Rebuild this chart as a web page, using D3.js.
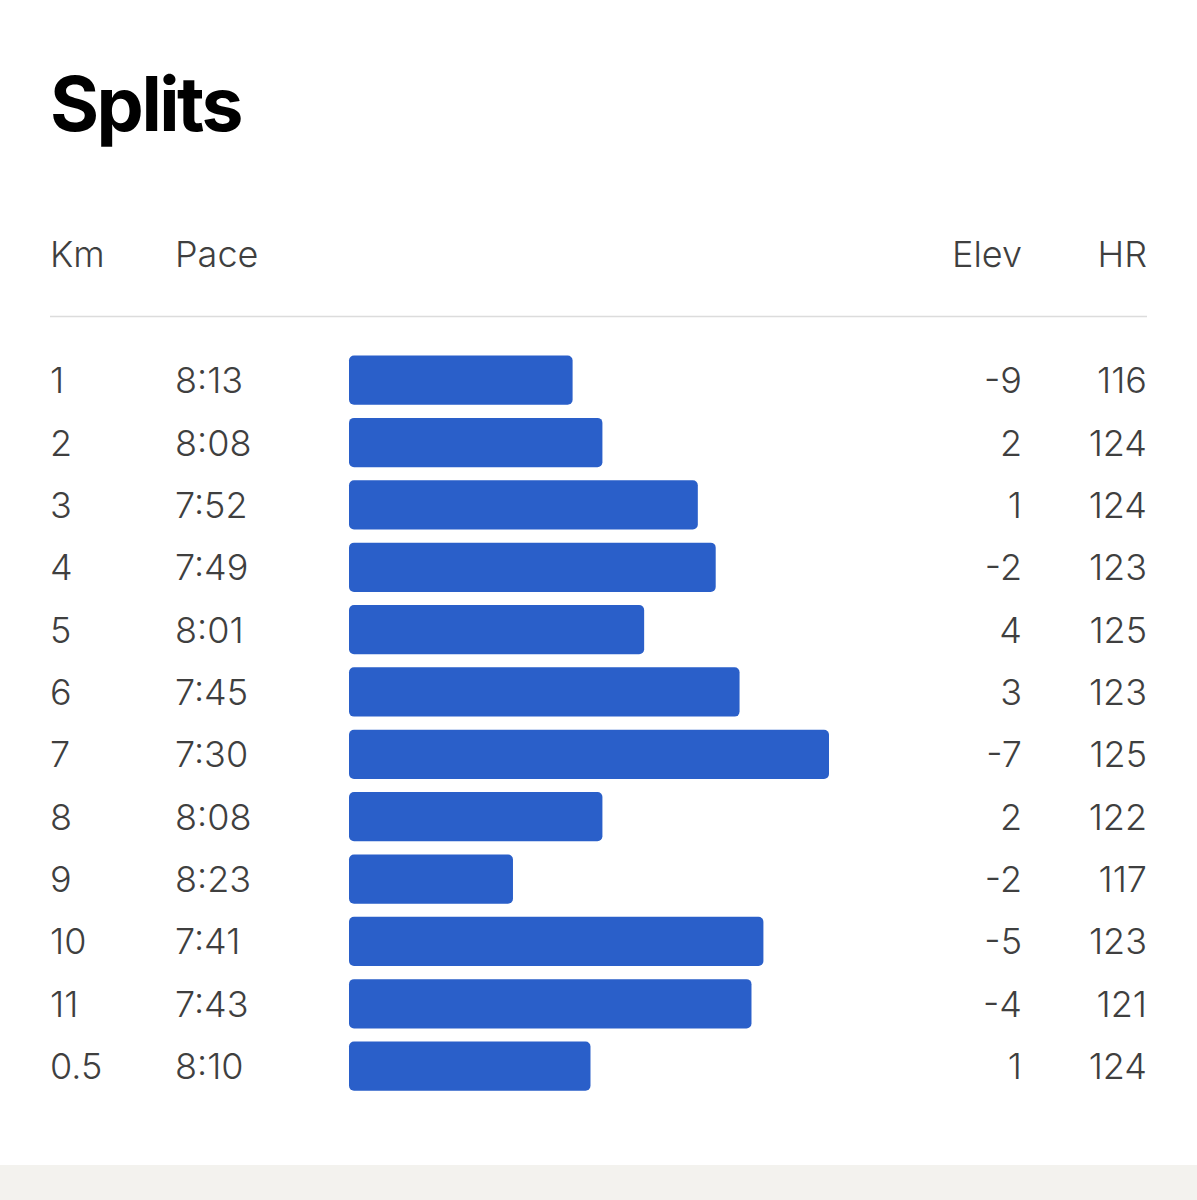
<!DOCTYPE html>
<html>
<head>
<meta charset="utf-8">
<script src="https://cdn.jsdelivr.net/npm/d3@7"></script>
<style>
  html, body { margin: 0; padding: 0; background: #ffffff; }
  svg { display: block; }
</style>
</head>
<body>
<script>
// ---- data ----
const kms = ["1","2","3","4","5","6","7","8","9","10","11","0.5"];
const paces = ["8:13","8:08","7:52","7:49","8:01","7:45","7:30","8:08","8:23","7:41","7:43","8:10"];
const elevs = [-9, 2, 1, -2, 4, 3, -7, 2, -2, -5, -4, 1];
const hrs = [116, 124, 124, 123, 125, 123, 125, 122, 117, 123, 121, 124];
const headers = ["Km", "Pace", "Elev", "HR"];
const title = "Splits";

const toSec = p => { const [m, s] = p.split(":").map(Number); return m * 60 + s; };
const rows = kms.map((k, i) => ({ km: k, pace: paces[i], sec: toSec(paces[i]), elev: elevs[i], hr: hrs[i] }));

const W = 1197, H = 1200;
const svg = d3.select("body").append("svg").attr("width", W).attr("height", H);
const font = "Inter, 'Noto Sans', sans-serif";
const textColor = "#3f3f3f";

// footer strip
svg.append("rect").attr("x", 0).attr("y", 1165).attr("width", W).attr("height", H - 1165).attr("fill", "#f3f2ee");

// title
svg.append("text").attr("x", 50).attr("y", 131).text(title)
  .attr("font-family", font).attr("font-weight", 700).attr("font-size", 75)
  .attr("fill", "#000").attr("letter-spacing", -2.5);

// headers
const colX = { km: 50, pace: 175, elev: 1022, hr: 1147 };
const hdr = [
  { t: headers[0], x: colX.km, a: "start" },
  { t: headers[1], x: colX.pace, a: "start" },
  { t: headers[2], x: colX.elev, a: "end" },
  { t: headers[3], x: colX.hr, a: "end" }
];
svg.selectAll("text.hdr").data(hdr).enter().append("text").attr("class", "hdr")
  .attr("x", d => d.x).attr("y", 267).attr("text-anchor", d => d.a).text(d => d.t)
  .attr("font-family", font).attr("font-size", 36).attr("font-weight", 350).attr("fill", textColor);

// divider
svg.append("line").attr("x1", 50).attr("x2", 1147).attr("y1", 316.5).attr("y2", 316.5)
  .attr("stroke", "#dcdcdc").attr("stroke-width", 1.5);

// scales
const y = d3.scaleBand().domain(d3.range(rows.length)).range([349, 349 + 62.36 * rows.length]).paddingInner(0.21).paddingOuter(0.105);
const x = d3.scaleLinear().domain([530.5, 450]).range([0, 480]);
const barX0 = 349;

const g = svg.append("g");
g.selectAll("rect.bar").data(rows).enter().append("rect").attr("class", "bar")
  .attr("x", barX0).attr("y", (d, i) => y(i))
  .attr("width", d => x(d.sec)).attr("height", y.bandwidth())
  .attr("rx", 5).attr("ry", 5).attr("fill", "#2a5fc9");

const cy = i => y(i) + y.bandwidth() / 2 + 13;
const cols = [
  { f: d => d.km, x: colX.km, a: "start" },
  { f: d => d.pace, x: colX.pace, a: "start" },
  { f: d => d.elev, x: colX.elev, a: "end" },
  { f: d => d.hr, x: colX.hr, a: "end" }
];
cols.forEach(c => {
  g.selectAll(null).data(rows).enter().append("text")
    .attr("x", c.x).attr("y", (d, i) => cy(i)).attr("text-anchor", c.a)
    .text(c.f).attr("font-family", font).attr("font-size", 36).attr("font-weight", 350).attr("fill", textColor);
});
</script>
</body>
</html>
